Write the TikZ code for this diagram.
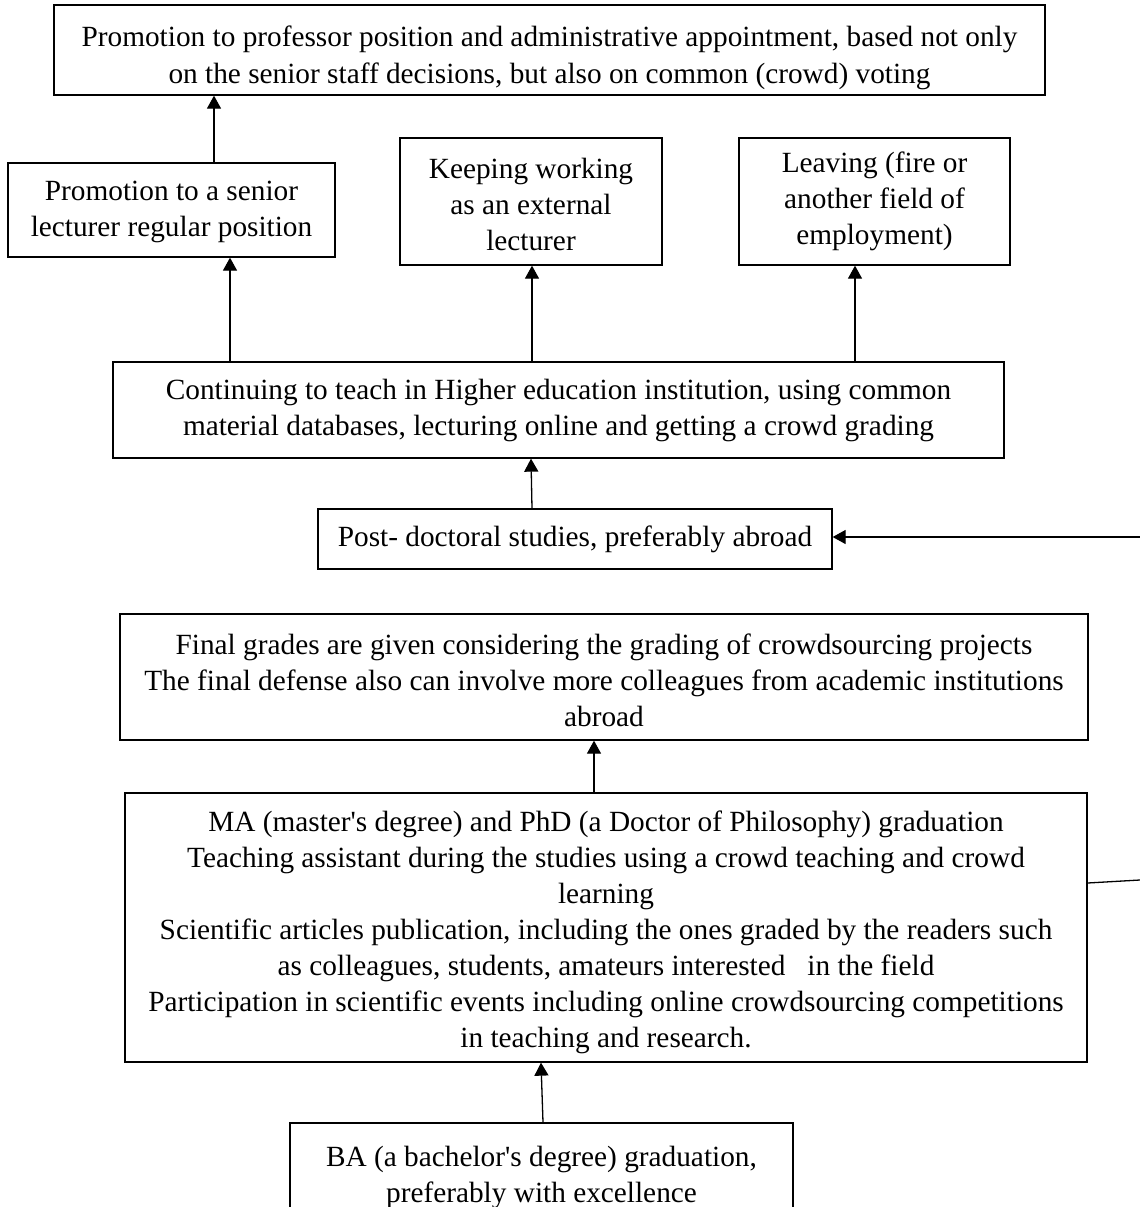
\documentclass[tikz,border=0pt]{standalone}
\usepackage{fontspec}
\setmainfont{Liberation Serif}
\usetikzlibrary{arrows.meta}
\begin{document}
\begin{tikzpicture}[x=1pt,y=-1pt,
  box/.style={draw, line width=1.3pt, align=center, inner sep=0pt,
    font=\fontsize{29.3}{36}\selectfont},
  tb/.style 2 args={text height=#1pt, text depth=#2pt},
  arr/.style={line width=1.3pt, -{Triangle[length=13pt,width=14pt]}},
  conn/.style={line width=1.3pt}]
\useasboundingbox (0,0) rectangle (1140,1207);
\fill[white] (0,0) rectangle (1140,1207);
\node[box, minimum width=991pt, minimum height=90pt, tb={78}{12}] (top) at (549.5,50)
  {Promotion to professor position and administrative appointment, based not only\\on the senior staff decisions, but also on common (crowd) voting};
\node[box, minimum width=327pt, minimum height=94pt, tb={73}{21}] (senior) at (171.5,210)
  {Promotion to a senior\\lecturer regular position};
\node[box, minimum width=262pt, minimum height=127pt, tb={112}{15}] (keeping) at (531,201.5)
  {Keeping working\\as an external\\lecturer};
\node[box, minimum width=271pt, minimum height=127pt, tb={106.5}{20.5}] (leaving) at (874.5,201.5)
  {Leaving (fire or\\another field of\\employment)};
\node[box, minimum width=891pt, minimum height=96pt, tb={73}{23}] (cont) at (558.5,410)
  {Continuing to teach in Higher education institution, using common\\material databases, lecturing online and getting a crowd grading};
\node[box, minimum width=514pt, minimum height=60pt, tb={37}{23}] (post) at (575,539)
  {Post- doctoral studies, preferably abroad};
\node[box, minimum width=968pt, minimum height=126pt, tb={112}{14}] (final) at (604,677)
  {Final grades are given considering the grading of crowdsourcing projects\\The final defense also can involve more colleagues from academic institutions\\abroad};
\node[box, minimum width=962pt, minimum height=269pt, tb={254}{15}] (ma) at (606,927.5)
  {MA (master\textquotesingle s degree) and PhD (a Doctor of Philosophy) graduation\\Teaching assistant during the studies using a crowd teaching and crowd\\learning\\Scientific articles publication, including the ones graded by the readers such\\as colleagues, students, amateurs interested\ \ \ in the field\\Participation in scientific events including online crowdsourcing competitions\\in teaching and research.};
\node[box, minimum width=503pt, minimum height=110pt, tb={79.5}{30.5}] (ba) at (541.5,1178)
  {BA (a bachelor\textquotesingle s degree) graduation,\\preferably with excellence};
\coordinate (r1) at (1140,880);
\coordinate (r2) at (1140,537);
\draw[arr] ([xshift=42.5pt]senior.north) -- ([xshift=-335.5pt]top.south);
\draw[arr] ([xshift=-328.5pt]cont.north) -- ([xshift=58.5pt]senior.south);
\draw[arr] ([xshift=-26.5pt]cont.north) -- ([xshift=1pt]keeping.south);
\draw[arr] ([xshift=296.5pt]cont.north) -- ([xshift=-19.5pt]leaving.south);
\draw[arr] ([xshift=-43pt]post.north) -- ([xshift=-27.5pt]cont.south);
\draw[arr] ([xshift=-12pt]ma.north) -- ([xshift=-10pt]final.south);
\draw[arr] ([xshift=1.5pt]ba.north) -- ([xshift=-65pt]ma.south);
\draw[conn] ([yshift=44.5pt]ma.east) -- (r1);
\draw[arr] (r2) -- ([yshift=2pt]post.east);
\end{tikzpicture}
\end{document}
